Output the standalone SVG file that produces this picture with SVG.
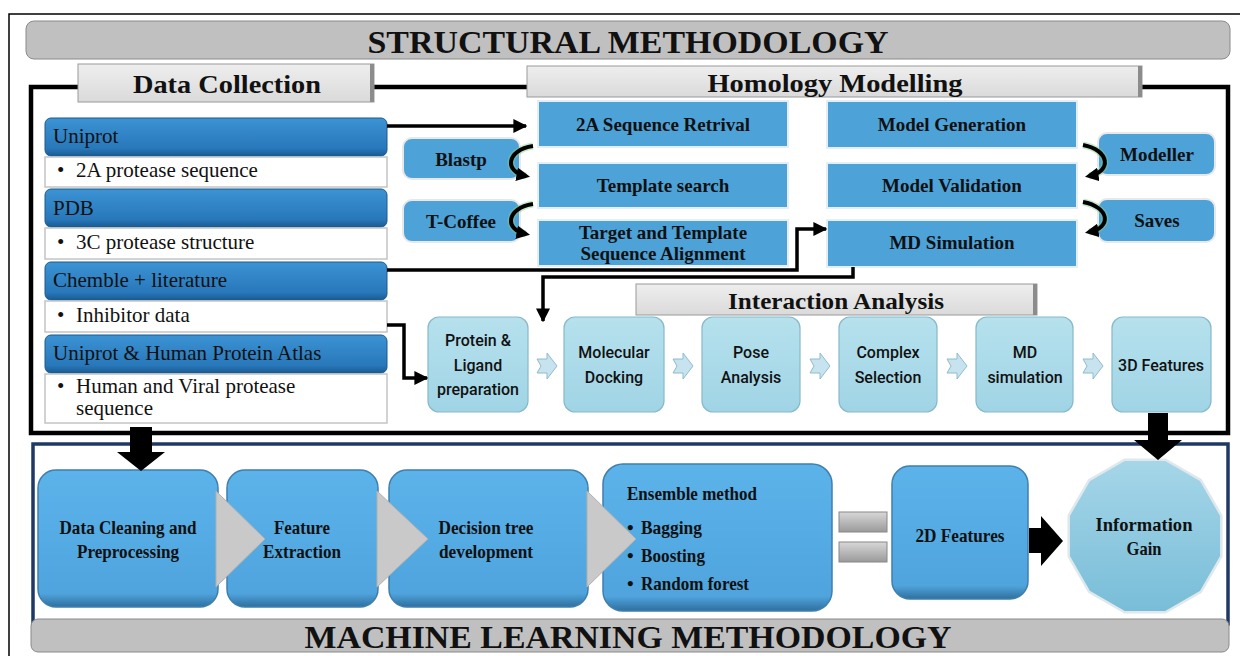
<svg xmlns="http://www.w3.org/2000/svg" width="1240" height="656" viewBox="0 0 1240 656">
<style>
.ser{font-family:"Liberation Serif","Times New Roman",serif;fill:#111}
.b{font-weight:bold}
.title{font-size:31px;font-weight:bold;text-anchor:middle}
.sec{font-size:26px;font-weight:bold;text-anchor:middle}
.dc{font-size:21px}
.hb{font-size:19px;font-weight:bold;text-anchor:middle}
.ml{font-size:19px;font-weight:bold;text-anchor:middle}
.ia{font-family:Roboto,"Open Sans","Liberation Sans",sans-serif;font-size:16px;font-weight:500;fill:#111;text-anchor:middle}
.dh{fill:url(#gHead);stroke:#1a5a8f;stroke-width:1}
.dw{fill:#fff;stroke:#c4c4c4;stroke-width:1.5}
.hbox{fill:#4da2d8;stroke:#e4eef5;stroke-width:2}
.tool{fill:#4da2d8;stroke:#e8e8e8;stroke-width:2}
.ibox{fill:url(#gInt);stroke:#86b9cb;stroke-width:1.2}
.mlbox{fill:url(#gMl);stroke:#3f7fae;stroke-width:1.5}
.lbl{fill:url(#gLbl);stroke:#9a9a9a;stroke-width:1}
.con{fill:none;stroke:#000;stroke-width:3.5}
.crv{fill:none;stroke:#000;stroke-width:4}
.glow{fill:none;stroke:#7fd08a;stroke-width:7;stroke-opacity:0.45}
.chev{fill:#c6e3ef;stroke:#8fbccc;stroke-width:1}
.gchev{fill:#c9c9c9;stroke:#b0b0b0;stroke-width:1}
</style>
<defs>
<linearGradient id="gHead" x1="0" y1="0" x2="0" y2="1">
<stop offset="0" stop-color="#3c93d4"/><stop offset="0.8" stop-color="#2878ba"/><stop offset="1" stop-color="#1a5b93"/>
</linearGradient>
<linearGradient id="gMl" x1="0" y1="0" x2="0" y2="1">
<stop offset="0" stop-color="#5cb3ea"/><stop offset="0.9" stop-color="#4fa4dd"/><stop offset="1" stop-color="#2f6f9e"/>
</linearGradient>
<linearGradient id="gInt" x1="0" y1="0" x2="0" y2="1">
<stop offset="0" stop-color="#b6e1ed"/><stop offset="1" stop-color="#a0d4e5"/>
</linearGradient>
<linearGradient id="gInfo" x1="0" y1="0" x2="0" y2="1">
<stop offset="0" stop-color="#a6d6e8"/><stop offset="1" stop-color="#78bdd8"/>
</linearGradient>
<linearGradient id="gLbl" x1="0" y1="0" x2="0" y2="1">
<stop offset="0" stop-color="#eeeeee"/><stop offset="1" stop-color="#dadada"/>
</linearGradient>
<linearGradient id="gBar" x1="0" y1="0" x2="0" y2="1">
<stop offset="0" stop-color="#d8d8d8"/><stop offset="1" stop-color="#9a9a9a"/>
</linearGradient>
<marker id="ah" viewBox="0 0 10 10" refX="9" refY="5" markerWidth="4" markerHeight="4" orient="auto">
<path d="M0,0 L10,5 L0,10 z" fill="#000"/>
</marker>
<marker id="ahc" viewBox="0 0 10 10" refX="7" refY="5" markerWidth="3.4" markerHeight="3.4" orient="auto">
<path d="M0,0 L10,5 L0,10 z" fill="#000"/>
</marker>
</defs>

<!-- outer frame -->
<path d="M1240 14 H9 V656" fill="none" stroke="#000" stroke-width="1.5"/>

<!-- title bar -->
<g id="title-structural">
<rect x="26" y="21" width="1204" height="38" rx="8" fill="#c0c0c0" stroke="#8a8a8a" stroke-width="1"/>
<text class="ser title" x="628" y="53" textLength="521" lengthAdjust="spacingAndGlyphs">STRUCTURAL METHODOLOGY</text>
</g>

<!-- structural box -->
<rect x="31" y="87" width="1197" height="346" fill="none" stroke="#000" stroke-width="4.5"/>

<!-- ML box -->
<rect x="33" y="444" width="1195" height="180" fill="none" stroke="#1f3864" stroke-width="3.5"/>

<g id="lbl-data-collection">
<rect class="lbl" x="78" y="64" width="296" height="38"/>
<rect x="370" y="64" width="4" height="38" fill="#8c8c8c"/>
<text class="ser sec" x="227" y="93" textLength="188" lengthAdjust="spacingAndGlyphs">Data Collection</text>
</g>
<g id="lbl-homology">
<rect class="lbl" x="527" y="66" width="615" height="31"/>
<rect x="1138" y="66" width="4" height="31" fill="#8c8c8c"/>
<text class="ser sec" x="835" y="92" textLength="255" lengthAdjust="spacingAndGlyphs">Homology  Modelling</text>
</g>

<!-- Data collection column -->
<g id="dc-uniprot">
<rect class="dh" x="45" y="118" width="342" height="38" rx="6"/>
<text class="ser dc" x="53" y="143">Uniprot</text>
<rect class="dw" x="45" y="157" width="342" height="30"/>
<text class="ser dc" x="57" y="177">•</text><text class="ser dc" x="76" y="177">2A protease sequence</text>
</g>
<g id="dc-pdb">
<rect class="dh" x="45" y="189" width="342" height="38" rx="6"/>
<text class="ser dc" x="53" y="215">PDB</text>
<rect class="dw" x="45" y="228" width="342" height="31"/>
<text class="ser dc" x="57" y="249">•</text><text class="ser dc" x="76" y="249">3C protease structure</text>
</g>
<g id="dc-chemble">
<rect class="dh" x="45" y="262" width="342" height="38" rx="6"/>
<text class="ser dc" x="53" y="287">Chemble + literature</text>
<rect class="dw" x="45" y="301" width="342" height="31"/>
<text class="ser dc" x="57" y="322">•</text><text class="ser dc" x="76" y="322">Inhibitor data</text>
</g>
<g id="dc-hpa">
<rect class="dh" x="45" y="335" width="342" height="38" rx="6"/>
<text class="ser dc" x="53" y="360">Uniprot &amp; Human Protein Atlas</text>
<rect class="dw" x="45" y="374" width="342" height="49"/>
<text class="ser dc" x="57" y="393">•</text><text class="ser dc" x="76" y="393">Human and Viral protease</text>
<text class="ser dc" x="76" y="415">sequence</text>
</g>

<!-- Homology boxes -->
<g id="hm-2a"><rect class="hbox" x="538" y="101" width="250" height="46"/><text class="ser hb" x="663" y="131">2A Sequence Retrival</text></g>
<g id="hm-template"><rect class="hbox" x="538" y="163" width="250" height="45"/><text class="ser hb" x="663" y="192">Template search</text></g>
<g id="hm-align"><rect class="hbox" x="538" y="220" width="250" height="46"/><text class="ser hb" x="663" y="239">Target and Template</text><text class="ser hb" x="663" y="260">Sequence Alignment</text></g>
<g id="hm-gen"><rect class="hbox" x="827" y="101" width="250" height="47"/><text class="ser hb" x="952" y="131">Model Generation</text></g>
<g id="hm-val"><rect class="hbox" x="827" y="163" width="250" height="45"/><text class="ser hb" x="952" y="192">Model Validation</text></g>
<g id="hm-md"><rect class="hbox" x="827" y="220" width="250" height="47"/><text class="ser hb" x="952" y="249">MD Simulation</text></g>
<g id="tool-blastp"><rect class="tool" x="403" y="138" width="117" height="41" rx="9"/><text class="ser hb" x="461" y="166">Blastp</text></g>
<g id="tool-tcoffee"><rect class="tool" x="403" y="200" width="117" height="42" rx="9"/><text class="ser hb" x="461" y="228">T-Coffee</text></g>
<g id="tool-modeller"><rect class="tool" x="1098" y="133" width="117" height="42" rx="9"/><text class="ser hb" x="1157" y="161">Modeller</text></g>
<g id="tool-saves"><rect class="tool" x="1098" y="199" width="117" height="43" rx="9"/><text class="ser hb" x="1157" y="227">Saves</text></g>

<g id="lbl-interaction">
<rect class="lbl" x="636" y="284" width="401" height="31"/>
<rect x="1033" y="284" width="4" height="31" fill="#8c8c8c"/>
<text class="ser b" x="836" y="309" font-size="23" text-anchor="middle" textLength="216" lengthAdjust="spacingAndGlyphs">Interaction Analysis</text>
</g>

<!-- Interaction boxes -->
<g id="ia-prep"><rect class="ibox" x="428" y="317" width="100" height="95" rx="11"/>
<text class="ia" x="478" y="346">Protein &amp;</text><text class="ia" x="478" y="371">Ligand</text><text class="ia" x="478" y="395">preparation</text></g>
<g id="ia-dock"><rect class="ibox" x="564" y="317" width="100" height="95" rx="11"/>
<text class="ia" x="614" y="358">Molecular</text><text class="ia" x="614" y="383">Docking</text></g>
<g id="ia-pose"><rect class="ibox" x="702" y="317" width="98" height="95" rx="11"/>
<text class="ia" x="751" y="358">Pose</text><text class="ia" x="751" y="383">Analysis</text></g>
<g id="ia-complex"><rect class="ibox" x="839" y="317" width="98" height="95" rx="11"/>
<text class="ia" x="888" y="358">Complex</text><text class="ia" x="888" y="383">Selection</text></g>
<g id="ia-md"><rect class="ibox" x="976" y="317" width="97" height="95" rx="11"/>
<text class="ia" x="1025" y="358">MD</text><text class="ia" x="1025" y="383">simulation</text></g>
<g id="ia-3d"><rect class="ibox" x="1112" y="317" width="99" height="95" rx="11"/>
<text class="ia" x="1161" y="371">3D Features</text></g>

<!-- ML boxes -->
<g id="ml-clean"><rect class="mlbox" x="38" y="470" width="180" height="137" rx="18"/>
<text class="ser ml" x="128" y="534" textLength="137" lengthAdjust="spacingAndGlyphs">Data Cleaning and</text>
<text class="ser ml" x="128" y="558" textLength="102" lengthAdjust="spacingAndGlyphs">Preprocessing</text></g>
<g id="ml-feature"><rect class="mlbox" x="227" y="470" width="151" height="137" rx="18"/>
<text class="ser ml" x="302" y="534" textLength="56" lengthAdjust="spacingAndGlyphs">Feature</text>
<text class="ser ml" x="302" y="558" textLength="78" lengthAdjust="spacingAndGlyphs">Extraction</text></g>
<g id="ml-tree"><rect class="mlbox" x="389" y="470" width="199" height="137" rx="18"/>
<text class="ser ml" x="486" y="534" textLength="95" lengthAdjust="spacingAndGlyphs">Decision tree</text>
<text class="ser ml" x="486" y="558" textLength="94" lengthAdjust="spacingAndGlyphs">development</text></g>
<g id="ml-ensemble"><rect class="mlbox" x="603" y="464" width="229" height="147" rx="20"/>
<text class="ser b" x="627" y="500" font-size="19" textLength="130" lengthAdjust="spacingAndGlyphs">Ensemble method</text>
<text class="ser b" x="627" y="534" font-size="19">•</text><text class="ser b" x="641" y="534" font-size="19" textLength="61" lengthAdjust="spacingAndGlyphs">Bagging</text>
<text class="ser b" x="627" y="562" font-size="19">•</text><text class="ser b" x="641" y="562" font-size="19" textLength="64" lengthAdjust="spacingAndGlyphs">Boosting</text>
<text class="ser b" x="627" y="590" font-size="19">•</text><text class="ser b" x="641" y="590" font-size="19" textLength="108" lengthAdjust="spacingAndGlyphs">Random forest</text></g>
<g id="ml-2d"><rect class="mlbox" x="892" y="466" width="136" height="133" rx="18"/>
<text class="ser ml" x="960" y="542" textLength="89" lengthAdjust="spacingAndGlyphs">2D Features</text></g>
<g id="ml-info">
<polygon points="1221.3,556.4 1200.9,591.9 1165.4,612.3 1124.6,612.3 1089.1,591.9 1068.7,556.4 1068.7,515.6 1089.1,480.1 1124.6,459.7 1165.4,459.7 1200.9,480.1 1221.3,515.6" fill="url(#gInfo)" stroke="#dfe8ec" stroke-width="2.5"/>
<text class="ser ml" x="1144" y="531" textLength="97" lengthAdjust="spacingAndGlyphs">Information</text>
<text class="ser ml" x="1144" y="555" textLength="35" lengthAdjust="spacingAndGlyphs">Gain</text></g>

<g id="title-ml">
<rect x="31" y="619" width="1198" height="33" rx="7" fill="#c0c0c0" stroke="#8a8a8a" stroke-width="1"/>
<text class="ser title" x="628" y="648" textLength="647" lengthAdjust="spacingAndGlyphs">MACHINE LEARNING METHODOLOGY</text>
</g>

<!-- connectors -->
<g id="connectors">
<path class="con" d="M387 126 H526" marker-end="url(#ah)"/>
<path class="con" d="M387 270 H797 V229 H826" marker-end="url(#ah)"/>
<path class="con" d="M853 267 V277 H543 V321" stroke-width="2.5" marker-end="url(#ah)"/>
<path class="con" d="M387 325 H404 V378 H427" marker-end="url(#ah)"/>
<path class="glow" d="M533 146 C506 150 504 172 526 176"/>
<path class="crv" d="M533 146 C506 150 504 172 526 176" marker-end="url(#ahc)"/>
<path class="glow" d="M533 204 C506 208 504 230 526 234"/>
<path class="crv" d="M533 204 C506 208 504 230 526 234" marker-end="url(#ahc)"/>
<path class="glow" d="M1083 145 C1110 150 1112 172 1089 176"/>
<path class="crv" d="M1083 145 C1110 150 1112 172 1089 176" marker-end="url(#ahc)"/>
<path class="glow" d="M1083 202 C1110 207 1112 228 1089 232"/>
<path class="crv" d="M1083 202 C1110 207 1112 228 1089 232" marker-end="url(#ahc)"/>
<polygon class="chev" points="537,359 547,359 547,353 557,366 547,379 547,373 537,373 541,366"/>
<polygon class="chev" points="673,359 683,359 683,353 693,366 683,379 683,373 673,373 677,366"/>
<polygon class="chev" points="810,359 820,359 820,353 830,366 820,379 820,373 810,373 814,366"/>
<polygon class="chev" points="947,359 957,359 957,353 967,366 957,379 957,373 947,373 951,366"/>
<polygon class="chev" points="1083,359 1093,359 1093,353 1103,366 1093,379 1093,373 1083,373 1087,366"/>
<polygon points="130,427 152,427 152,452 165,452 141,471 117,452 130,452" fill="#000"/>
<polygon points="1148,413 1168,413 1168,440 1182,440 1158,460 1134,440 1148,440" fill="#000"/>
<polygon class="gchev" points="216,491 265,539 216,587"/>
<polygon class="gchev" points="377,491 428,539 377,587"/>
<polygon class="gchev" points="587,491 636,539 587,587"/>
<rect x="839" y="512" width="48" height="20" fill="url(#gBar)" stroke="#888" stroke-width="1"/>
<rect x="839" y="542" width="48" height="20" fill="url(#gBar)" stroke="#888" stroke-width="1"/>
<polygon points="1029,528 1041,528 1041,516 1063,541 1041,566 1041,553 1029,553" fill="#000"/>
</g>
</svg>
